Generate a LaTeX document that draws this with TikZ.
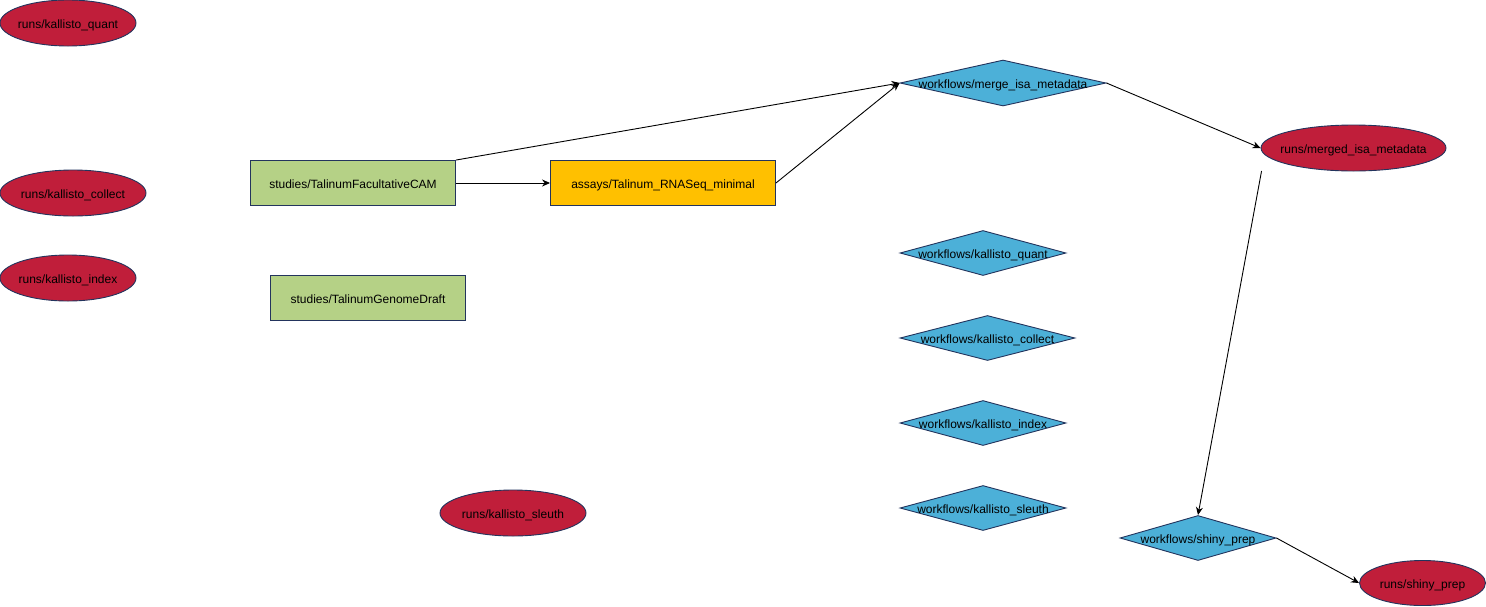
\documentclass[tikz,border=0pt]{standalone}
\usepackage{fontspec}
\setmainfont{Liberation Sans}
\usetikzlibrary{shapes.geometric,arrows.meta}
\definecolor{runred}{RGB}{192,30,58}
\definecolor{edgeblue}{RGB}{35,52,93}
\definecolor{studygreen}{RGB}{181,209,134}
\definecolor{assayorange}{RGB}{255,192,0}
\definecolor{wfblue}{RGB}{76,176,216}
\newcommand{\lbl}[1]{\makebox[0pt]{\raisebox{-5pt}[0pt][0pt]{#1}}}
\begin{document}
\begin{tikzpicture}[x=1pt,y=-1pt,
  every node/.style={font=\fontsize{12}{14}\selectfont, text=black, inner sep=0pt, line width=0.9pt, draw=edgeblue},
  runnode/.style={ellipse, fill=runred},
  studynode/.style={rectangle, fill=studygreen},
  assaynode/.style={rectangle, fill=assayorange},
  wfnode/.style={diamond, fill=wfblue},
  link/.style={draw=black, line width=0.9pt, -{Stealth[length=8pt,width=7pt]}}
]
\useasboundingbox (0,0) rectangle (1486,606);
% runs
\node[runnode, minimum width=136pt, minimum height=46pt] (rquant) at (68,23) {\lbl{runs/kallisto\_quant}};
\node[runnode, minimum width=146pt, minimum height=46pt] (rcollect) at (73,193) {\lbl{runs/kallisto\_collect}};
\node[runnode, minimum width=136pt, minimum height=46pt] (rindex) at (68,278) {\lbl{runs/kallisto\_index}};
\node[runnode, minimum width=146pt, minimum height=46pt] (rsleuth) at (513,513) {\lbl{runs/kallisto\_sleuth}};
\node[runnode, minimum width=185pt, minimum height=46pt] (rmerged) at (1353.5,148) {\lbl{runs/merged\_isa\_metadata}};
\node[runnode, minimum width=126pt, minimum height=45pt] (rshiny) at (1422.5,583) {\lbl{runs/shiny\_prep}};
% studies / assays
\node[studynode, minimum width=205pt, minimum height=45pt] (scam) at (353,183) {\lbl{studies/TalinumFacultativeCAM}};
\node[assaynode, minimum width=225pt, minimum height=45pt] (assay) at (663,183) {\lbl{assays/Talinum\_RNASeq\_minimal}};
\node[studynode, minimum width=195pt, minimum height=45pt] (sgenome) at (368,298) {\lbl{studies/TalinumGenomeDraft}};
% workflows
\node[wfnode, minimum width=206pt, minimum height=46pt] (wmerge) at (1003,83) {\lbl{workflows/merge\_isa\_metadata}};
\node[wfnode, minimum width=166pt, minimum height=45pt] (wquant) at (983,253) {\lbl{workflows/kallisto\_quant}};
\node[wfnode, minimum width=175pt, minimum height=45pt] (wcollect) at (987.5,338) {\lbl{workflows/kallisto\_collect}};
\node[wfnode, minimum width=166pt, minimum height=45pt] (windex) at (983,423) {\lbl{workflows/kallisto\_index}};
\node[wfnode, minimum width=166pt, minimum height=45pt] (wsleuth) at (983,508) {\lbl{workflows/kallisto\_sleuth}};
\node[wfnode, minimum width=156pt, minimum height=45pt] (wshiny) at (1198,538) {\lbl{workflows/shiny\_prep}};
% connectors
\coordinate (mstart) at ([xshift=1pt,yshift=-23pt]rmerged.west);
\draw[link] (scam.north east) -- (wmerge.west);
\draw[link] (scam.east) -- (assay.west);
\draw[link] (assay.east) -- (wmerge.west);
\draw[link] (wmerge.east) -- (rmerged.west);
\draw[link] (mstart) -- (wshiny.north);
\draw[link] (wshiny.east) -- (rshiny.west);
\end{tikzpicture}
\end{document}
